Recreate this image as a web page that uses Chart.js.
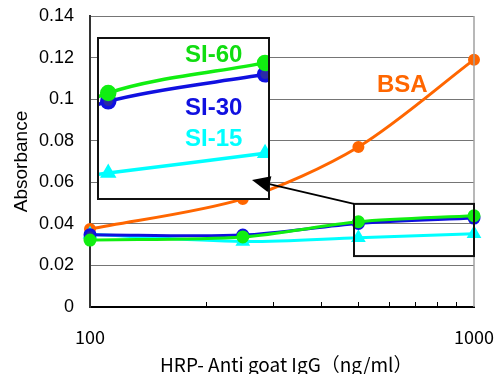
<!DOCTYPE html>
<html>
<head>
<meta charset="utf-8">
<script src="https://cdn.jsdelivr.net/npm/chart.js@4.4.0/dist/chart.umd.min.js"></script>
<style>
  html, body { margin: 0; padding: 0; background: #fff; }
  #wrap { position: relative; width: 495px; height: 374px; }
  #main, #overlay { position: absolute; left: 0; top: 0; }
  #overlay { pointer-events: none; }
  #insetBox {
    position: absolute; left: 97px; top: 37px; width: 173px; height: 163px;
    box-sizing: border-box; border: 2px solid #111; background: #fff;
  }
  #insetBox canvas { position: absolute; left: 0; top: 0; }
</style>
</head>
<body>
<div id="wrap">
  <canvas id="main" width="495" height="374"></canvas>
  <div id="insetBox"><canvas id="inset" width="169" height="159"></canvas></div>
  <canvas id="overlay" width="495" height="374"></canvas>
</div>
<script>
// data
const concentrations = [100, 250, 500, 1000];
const bsa = [0.0375, 0.052, 0.077, 0.119];
const si60 = [0.0322, 0.0337, 0.041, 0.0439];
const si30 = [0.0348, 0.0346, 0.0402, 0.0428];
const si15 = [0.035, 0.0315, 0.0333, 0.0352];

const yTicks = [0, 0.02, 0.04, 0.06, 0.08, 0.1, 0.12, 0.14];
const xMinorTicks = [200, 300, 400, 500, 600, 700, 800, 900];
const xLabels = [100, 1000];
const xTitle = "  HRP- Anti goat IgG（ng/ml）";
const yTitle = "Absorbance";

// zoomed region shown in the inset
const zoomX = [487, 1000];
const zoomY = [0.0245, 0.0496];

const Colors = {
  bsa: "#ff6600",
  si60: "#11ee11",
  si30: "#1010e0",
  si30Fill: "#2a2aa8",
  si15: "#00ffff",
  grid: "#757575",
};

const pts = (ys) => concentrations.map((x, i) => ({ x, y: ys[i] }));

const seriesDefs = [
  { label: "SI-60", data: si60, color: Colors.si60, fill: Colors.si60, style: "circle" },
  { label: "SI-30", data: si30, color: Colors.si30, fill: Colors.si30Fill, style: "circle" },
  { label: "SI-15", data: si15, color: Colors.si15, fill: Colors.si15, style: "triangle" },
];

const mainDecor = {
  id: "mainDecor",
  afterDraw(chart) {
    const c = chart.ctx;
    const { right, top, bottom } = chart.chartArea;
    const xs = chart.scales.x, ys = chart.scales.y;
    c.save();
    // right frame
    c.strokeStyle = "#a0a0a0";
    c.lineWidth = 1.5;
    c.beginPath();
    c.moveTo(right, top);
    c.lineTo(right, bottom);
    c.stroke();
    // inward minor ticks on x
    c.strokeStyle = "#000";
    c.lineWidth = 1;
    xMinorTicks.forEach((v) => {
      const px = Math.round(xs.getPixelForValue(v)) + 0.5;
      c.beginPath();
      c.moveTo(px, bottom);
      c.lineTo(px, bottom - 5);
      c.stroke();
    });
    // zoom box
    const bx0 = xs.getPixelForValue(zoomX[0]), bx1 = xs.getPixelForValue(zoomX[1]);
    const by0 = ys.getPixelForValue(zoomY[1]), by1 = ys.getPixelForValue(zoomY[0]);
    c.strokeStyle = "#111";
    c.lineWidth = 2;
    c.strokeRect(bx0, by0, bx1 - bx0, by1 - by0);
    // BSA label
    c.fillStyle = Colors.bsa;
    c.font = 'bold 24px "Liberation Sans", Arial, sans-serif';
    c.textBaseline = "alphabetic";
    c.fillText("BSA", 377, 92);
    c.restore();

    // arrow on the overlay, above the inset
    const o = document.getElementById("overlay").getContext("2d");
    o.clearRect(0, 0, 495, 374);
    const tx = bx0, ty = by0, hx = 252, hy = 180;
    const ang = Math.atan2(hy - ty, hx - tx);
    const len = 18, half = 8;
    const baseX = hx - len * Math.cos(ang), baseY = hy - len * Math.sin(ang);
    o.strokeStyle = "#000";
    o.lineWidth = 1.8;
    o.beginPath();
    o.moveTo(tx, ty);
    o.lineTo(baseX, baseY);
    o.stroke();
    o.fillStyle = "#000";
    o.beginPath();
    o.moveTo(hx, hy);
    o.lineTo(baseX + half * Math.sin(ang), baseY - half * Math.cos(ang));
    o.lineTo(baseX - half * Math.sin(ang), baseY + half * Math.cos(ang));
    o.closePath();
    o.fill();
  },
};

new Chart(document.getElementById("main"), {
  type: "line",
  data: {
    datasets: [
      ...seriesDefs.map((s) => ({
        label: s.label,
        data: pts(s.data),
        borderColor: s.color,
        backgroundColor: s.fill,
        pointBackgroundColor: s.fill,
        pointBorderColor: s.color,
        pointStyle: s.style,
        pointRadius: s.style === "triangle" ? 5.5 : 5,
        borderWidth: 3,
        tension: 0.3,
        clip: false,
      })),
      {
        label: "BSA",
        data: pts(bsa),
        borderColor: Colors.bsa,
        backgroundColor: Colors.bsa,
        pointRadius: 4.5,
        borderWidth: 3,
        tension: 0.3,
        clip: false,
      },
    ],
  },
  options: {
    responsive: false,
    animation: false,
    layout: { autoPadding: false, padding: { left: 0, right: 21, top: 16, bottom: 0 } },
    plugins: { legend: { display: false }, tooltip: { enabled: false } },
    scales: {
      x: {
        type: "logarithmic",
        min: 100,
        max: 1000,
        afterBuildTicks: (s) => { s.ticks = xLabels.map((v) => ({ value: v })); },
        afterFit: (s) => { s.height = 67; s.paddingLeft = 0; s.paddingRight = 0; },
        grid: { display: false },
        border: { display: true, color: "#000", width: 2 },
        ticks: {
          autoSkip: false,
          maxRotation: 0,
          padding: 11,
          color: "#000",
          font: { family: '"Noto Sans CJK JP", sans-serif', size: 18 },
          callback: (v) => String(v),
        },
        title: {
          display: true,
          text: xTitle,
          color: "#000",
          padding: { top: 0, bottom: -2 },
          font: { family: '"Noto Sans CJK JP", sans-serif', size: 19 },
        },
      },
      y: {
        min: 0,
        max: 0.14,
        afterBuildTicks: (s) => { s.ticks = yTicks.map((v) => ({ value: v })); },
        afterFit: (s) => { s.width = 90; s.paddingTop = 0; s.paddingBottom = 0; },
        grid: { color: Colors.grid, lineWidth: 1, drawTicks: false },
        border: { display: true, color: "#333", width: 2 },
        ticks: {
          padding: 16,
          color: "#000",
          font: { family: '"Liberation Sans", Arial, sans-serif', size: 18 },
          callback: (v) => String(parseFloat(Number(v).toFixed(2))),
        },
        title: {
          display: true,
          text: yTitle,
          color: "#000",
          padding: { top: 10, bottom: 0 },
          font: { family: '"Liberation Sans", Arial, sans-serif', size: 19 },
        },
      },
    },
  },
  plugins: [mainDecor],
});

// inset: magnified view of the zoom box
const insetLabels = {
  id: "insetLabels",
  afterDraw(chart) {
    const c = chart.ctx;
    c.save();
    c.font = 'bold 24px "Liberation Sans", Arial, sans-serif';
    c.textBaseline = "alphabetic";
    const pos = [23, 76, 107];
    seriesDefs.forEach((s, i) => {
      c.fillStyle = s.color === Colors.si60 ? "#11dd11" : s.color;
      c.fillText(s.label, 86, pos[i]);
    });
    c.restore();
  },
};

new Chart(document.getElementById("inset"), {
  type: "line",
  data: {
    datasets: seriesDefs.map((s) => ({
      label: s.label,
      data: pts(s.data),
      borderColor: s.color,
      backgroundColor: s.fill,
      pointBackgroundColor: s.fill,
      pointBorderColor: s.color,
      pointStyle: s.style,
      pointRadius: s.style === "triangle" ? 6 : 6.5,
      borderWidth: 3.5,
      tension: 0.3,
      clip: false,
    })),
  },
  options: {
    responsive: false,
    animation: false,
    layout: { autoPadding: false, padding: 0 },
    plugins: { legend: { display: false }, tooltip: { enabled: false } },
    scales: {
      x: { type: "logarithmic", display: false, bounds: "data", min: 480, max: 1013 },
      y: { display: false, bounds: "data", min: 0.0309, max: 0.0462 },
    },
  },
  plugins: [insetLabels],
});
</script>
</body>
</html>
